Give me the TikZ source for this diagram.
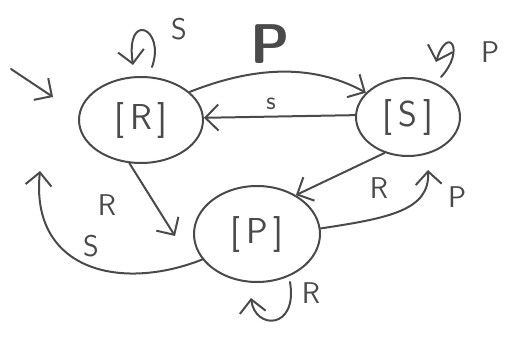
\documentclass[tikz,border=0pt]{standalone}
\usetikzlibrary{arrows.meta,shapes.geometric}
\definecolor{pencil}{HTML}{4A4A4A}
\begin{document}
\begin{tikzpicture}[x=1pt,y=-1pt,
  pen/.style={draw=pencil,line width=2pt,line cap=round,line join=round},
  state/.style={pen,ellipse,inner sep=0pt,font=\sffamily\fontsize{36}{40}\selectfont,text=pencil},
  arr/.style={pen,-{Straight Barb[length=13pt,width=26pt,line width=2pt]}},
  lbl/.style={font=\sffamily\fontsize{30}{34}\selectfont,text=pencil,inner sep=0pt},
  small/.style={font=\sffamily\fontsize{26}{30}\selectfont,text=pencil,inner sep=0pt}]
\useasboundingbox (0,0) rectangle (512,337);

% states
\node[state,minimum width=124pt,minimum height=86pt] (R) at (141,120) {[\,R\,]};
\node[state,minimum width=104pt,minimum height=78pt] (S) at (408,117) {[\,S\,]};
\node[state,minimum width=126pt,minimum height=96pt] (P) at (257,234) {[\,P\,]};

% start marker
\coordinate (init) at (11,69);
\coordinate (initend) at (53,97);
\draw[arr] (init) -- (initend);

% R to S, over the top
\draw[arr] (R.30) .. controls (250,68) and (310,62) .. (S.150);
\node[font=\sffamily\bfseries\fontsize{56}{60}\selectfont,text=pencil] (lp) at (270,44) {P};

% S back to R
\draw[arr] (S.178) -- (R.2);
\node[small] (ls) at (271,104) {s};

% self loop on R
\coordinate (rl1) at (152,67);
\coordinate (rl2) at (133,65);
\draw[arr] (rl1) .. controls (166,28) and (125,10) .. (rl2);
\node[lbl] (lrs) at (179,29) {S};

% self loop on S
\coordinate (sl1) at (441,77);
\coordinate (sl2) at (436,62);
\draw[arr] (sl1) .. controls (466,50) and (448,24) .. (sl2);
\node[lbl] (lsp) at (490,52) {P};

% S to P
\draw[arr] (S.237) -- (P.45);
\node[lbl] (lsr) at (379,188) {R};

% P to S, up the right side
\coordinate (ps) at (428,170);
\draw[arr] (P.5) .. controls (390,218) and (430,210) .. (ps);
\node[lbl] (lpp) at (457,197) {P};

% R to P
\coordinate (rp) at (175,236);
\draw[arr] (R.255) -- (rp);
\node[lbl] (lrr) at (107,205) {R};

% P back to R, round the lower left
\coordinate (pr) at (40,171);
\draw[arr] (P.205) .. controls (120,292) and (30,270) .. (pr);
\node[lbl] (lps) at (91,246) {S};

% self loop on P
\coordinate (pl1) at (290,282);
\coordinate (pl2) at (251,298);
\draw[arr] (pl1) .. controls (298,330) and (255,330) .. (pl2);
\node[lbl] (lpr) at (311,293) {R};
\end{tikzpicture}
\end{document}
